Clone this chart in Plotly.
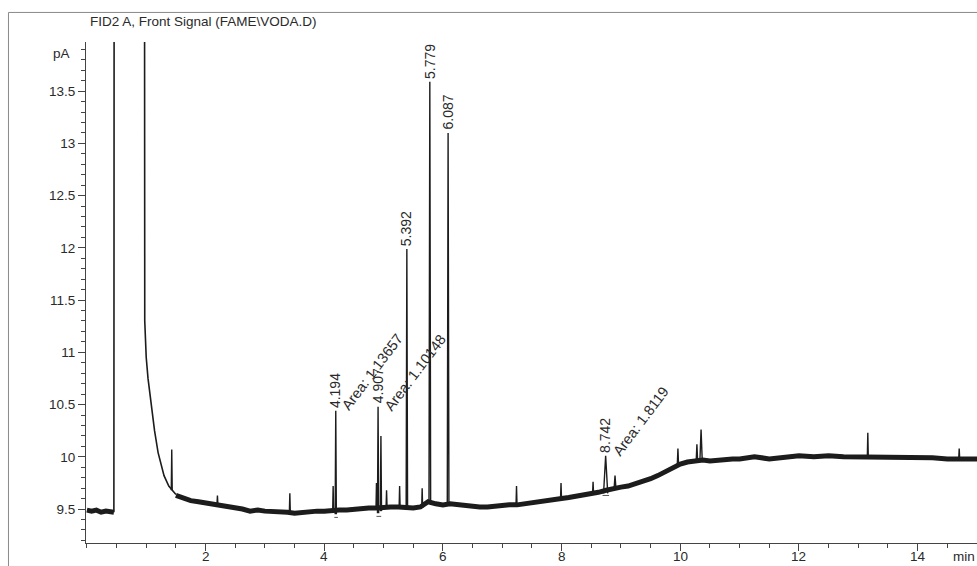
import plotly.graph_objects as go

# ---------------- data ----------------
# baseline before the solvent front
pre_t = [0.0, 0.08, 0.16, 0.24, 0.32, 0.40, 0.455]
pre_v = [9.49, 9.48, 9.49, 9.47, 9.48, 9.48, 9.47]

# solvent peak (off-scale) and its tail
solv_t = [0.455, 0.46, 0.965, 0.97, 0.975, 1.0, 1.03, 1.06, 1.10, 1.14, 1.20, 1.25, 1.30, 1.38, 1.45, 1.50]
solv_v = [9.47, 16.0, 16.0, 16.0, 11.3, 10.95, 10.75, 10.6, 10.4, 10.25, 10.04, 9.92, 9.82, 9.72, 9.67, 9.64]

# noisy baseline after the solvent tail
base_t = [1.50, 1.62, 1.75, 1.88, 2.00, 2.12, 2.25, 2.38, 2.50, 2.62, 2.75, 2.88, 3.00, 3.12,
          3.25, 3.38, 3.50, 3.62, 3.75, 3.88, 4.00, 4.12, 4.25, 4.38, 4.50, 4.62, 4.75, 4.88,
          5.00, 5.12, 5.25, 5.38, 5.50, 5.62, 5.75, 5.88, 6.00, 6.12, 6.25, 6.38, 6.50, 6.62,
          6.75, 6.88, 7.00, 7.12, 7.25, 7.38, 7.50, 7.62, 7.75, 7.88, 8.00, 8.12, 8.25, 8.38,
          8.50, 8.62, 8.75, 8.88, 9.00, 9.12, 9.25, 9.38, 9.50, 9.62, 9.75, 9.88, 10.00, 10.12,
          10.25, 10.38, 10.50, 10.62, 10.75, 10.88, 11.00, 11.25, 11.50, 11.75, 12.00, 12.25,
          12.50, 12.75, 13.00, 13.25, 13.50, 13.75, 14.00, 14.25, 14.50, 14.75, 15.00]
base_v = [9.63, 9.60, 9.58, 9.57, 9.56, 9.54, 9.53, 9.52, 9.51, 9.50, 9.48, 9.49, 9.48, 9.48,
          9.47, 9.47, 9.46, 9.47, 9.48, 9.48, 9.48, 9.49, 9.49, 9.49, 9.50, 9.50, 9.51, 9.51,
          9.52, 9.52, 9.52, 9.51, 9.51, 9.52, 9.57, 9.55, 9.54, 9.55, 9.54, 9.53, 9.52, 9.52,
          9.52, 9.53, 9.53, 9.54, 9.54, 9.55, 9.55, 9.57, 9.58, 9.59, 9.60, 9.61, 9.62, 9.63,
          9.65, 9.66, 9.68, 9.70, 9.71, 9.72, 9.74, 9.76, 9.79, 9.82, 9.86, 9.89, 9.93, 9.95,
          9.96, 9.97, 9.96, 9.97, 9.97, 9.98, 9.98, 10.00, 9.98, 10.00, 10.01, 10.00,
          10.01, 10.00, 10.00, 10.00, 9.99, 9.99, 9.99, 9.99, 9.98, 9.98, 9.98]

# peaks: retention time, apex (pA), local baseline (pA), half width (min)
peak_rt    = [1.43, 2.20, 3.42, 4.15, 4.194, 4.88, 4.907, 4.955, 5.05, 5.27, 5.392, 5.65,
              5.779, 6.087, 7.24, 7.99, 8.53, 8.742, 8.90, 9.96, 10.28, 10.35, 13.16, 14.70]
peak_apex  = [10.07, 9.63, 9.65, 9.72, 10.44, 9.75, 10.48, 10.20, 9.68, 9.72, 11.99, 9.70,
              13.59, 13.10, 9.72, 9.75, 9.76, 10.01, 9.82, 10.08, 10.12, 10.26, 10.23, 10.08]
peak_base  = [9.68, 9.54, 9.47, 9.48, 9.45, 9.50, 9.46, 9.48, 9.52, 9.52, 9.51, 9.51,
              9.56, 9.54, 9.54, 9.60, 9.65, 9.65, 9.70, 9.93, 9.96, 9.96, 10.00, 9.98]
peak_hw    = [0.008, 0.008, 0.008, 0.008, 0.010, 0.008, 0.010, 0.010, 0.008, 0.008, 0.012, 0.008,
              0.014, 0.014, 0.008, 0.008, 0.008, 0.035, 0.015, 0.010, 0.012, 0.020, 0.008, 0.008]

# integration baselines drawn under integrated peaks
int_t0 = [4.17, 4.88, 8.69]
int_t1 = [4.23, 4.96, 8.80]
int_v  = [9.42, 9.43, 9.63]

# retention-time labels
rt_labels = ["4.194", "4.907", "5.392", "5.779", "6.087", "8.742"]
rt_x      = [4.194, 4.907, 5.392, 5.779, 6.087, 8.742]
rt_y      = [10.44, 10.48, 11.99, 13.59, 13.10, 10.01]

# area labels
area_labels = ["Area: 1.13657", "Area: 1.10148", "Area: 1.8119"]
area_x      = [4.81, 5.53, 9.34]
area_y      = [10.81, 10.80, 10.34]

x_tickvals = [2, 4, 6, 8, 10, 12, 14]
x_ticktext = ["2", "4", "6", "8", "10", "12", "14"]
y_tickvals = [9.5, 10, 10.5, 11, 11.5, 12, 12.5, 13, 13.5]
y_ticktext = ["9.5", "10", "10.5", "11", "11.5", "12", "12.5", "13", "13.5"]

title_text = "FID2 A, Front Signal (FAME\\VODA.D)"

# ---------------- figure ----------------
FONT = "Liberation Sans, Arial, sans-serif"
INK = "#1c1c1c"
TXT = "#2a2a2a"

fig = go.Figure()

# thick noisy baseline band
fig.add_trace(go.Scatter(x=pre_t, y=pre_v, mode="lines",
                         line=dict(color=INK, width=5), hoverinfo="skip"))
fig.add_trace(go.Scatter(x=base_t, y=base_v, mode="lines",
                         line=dict(color=INK, width=5, shape="linear"), hoverinfo="skip"))
# solvent front and tail
fig.add_trace(go.Scatter(x=solv_t, y=solv_v, mode="lines",
                         line=dict(color=INK, width=1.6), hoverinfo="skip"))

# peaks as spikes
px, py = [], []
for t, a, b, w in zip(peak_rt, peak_apex, peak_base, peak_hw):
    px += [t - w, t, t + w, None]
    py += [b, a, b, None]
fig.add_trace(go.Scatter(x=px, y=py, mode="lines",
                         line=dict(color=INK, width=1.4), hoverinfo="skip"))

# integration baselines
ix, iy = [], []
for t0, t1, v in zip(int_t0, int_t1, int_v):
    ix += [t0, t1, None]
    iy += [v, v, None]
fig.add_trace(go.Scatter(x=ix, y=iy, mode="lines",
                         line=dict(color="#555555", width=1), hoverinfo="skip"))

annotations = []
for lab, x, y in zip(rt_labels, rt_x, rt_y):
    annotations.append(dict(x=x, y=y, xref="x", yref="y", text=lab, showarrow=False,
                            textangle=-90, xanchor="center", yanchor="bottom", yshift=1,
                            font=dict(family=FONT, size=14, color=TXT)))
for lab, x, y in zip(area_labels, area_x, area_y):
    annotations.append(dict(x=x, y=y, xref="x", yref="y", text=lab, showarrow=False,
                            textangle=-53, xanchor="center", yanchor="middle",
                            font=dict(family=FONT, size=14.5, color=TXT)))
# x tick labels (placed close under the axis, as in the printout)
for lab, x in zip(x_ticktext, x_tickvals):
    annotations.append(dict(x=x, y=-0.027, xref="x", yref="paper", text=lab, showarrow=False,
                            xanchor="center", yanchor="middle",
                            font=dict(family=FONT, size=13.5, color=TXT)))
annotations.append(dict(x=0.002, y=1.041, xref="paper", yref="paper", text=title_text,
                        showarrow=False, xanchor="left", yanchor="middle",
                        font=dict(family=FONT, size=13.5, color=TXT)))
annotations.append(dict(x=-0.016, y=13.86, xref="paper", yref="y", text="pA",
                        showarrow=False, xanchor="right", yanchor="middle",
                        font=dict(family=FONT, size=13.5, color=TXT)))
annotations.append(dict(x=0.9995, y=-0.027, xref="paper", yref="paper", text="min",
                        showarrow=False, xanchor="right", yanchor="middle",
                        font=dict(family=FONT, size=13.5, color=TXT)))

shapes = [
    dict(type="line", xref="paper", yref="paper", x0=-0.087, x1=1.0, y0=1.059, y1=1.059,
         line=dict(color="#8a8a8a", width=1)),
    dict(type="line", xref="paper", yref="paper", x0=-0.087, x1=-0.087, y0=1.059, y1=-0.05,
         line=dict(color="#8a8a8a", width=1)),
]

fig.update_layout(
    width=977, height=566,
    margin=dict(l=86, r=0, t=42, b=23),
    paper_bgcolor="white", plot_bgcolor="white",
    showlegend=False,
    annotations=annotations,
    shapes=shapes,
    font=dict(family=FONT, size=13.5, color=TXT),
    xaxis=dict(range=[-0.015, 15.0], tickmode="array", tickvals=x_tickvals,
               showticklabels=False,
               showgrid=False, zeroline=False, showline=True, linecolor="#444", linewidth=1,
               ticks="outside", ticklen=7, tickcolor="#444", tickwidth=1, automargin=False,
               minor=dict(dtick=0.5, tick0=0, ticks="outside", ticklen=4, tickcolor="#444",
                          showgrid=False)),
    yaxis=dict(range=[9.175, 13.97], tickmode="array", tickvals=y_tickvals, ticktext=y_ticktext,
               showgrid=False, zeroline=False, showline=True, linecolor="#444", linewidth=1,
               ticks="outside", ticklen=7, tickcolor="#444", tickwidth=1, automargin=False,
               tickfont=dict(family=FONT, size=13.5, color=TXT),
               minor=dict(dtick=0.1, tick0=9.5, ticks="outside", ticklen=4, tickcolor="#444",
                          showgrid=False)),
)

fig.write_html("out.html", config={"displayModeBar": False},
               post_script="document.body.style.margin='0';document.body.style.overflow='hidden';")
